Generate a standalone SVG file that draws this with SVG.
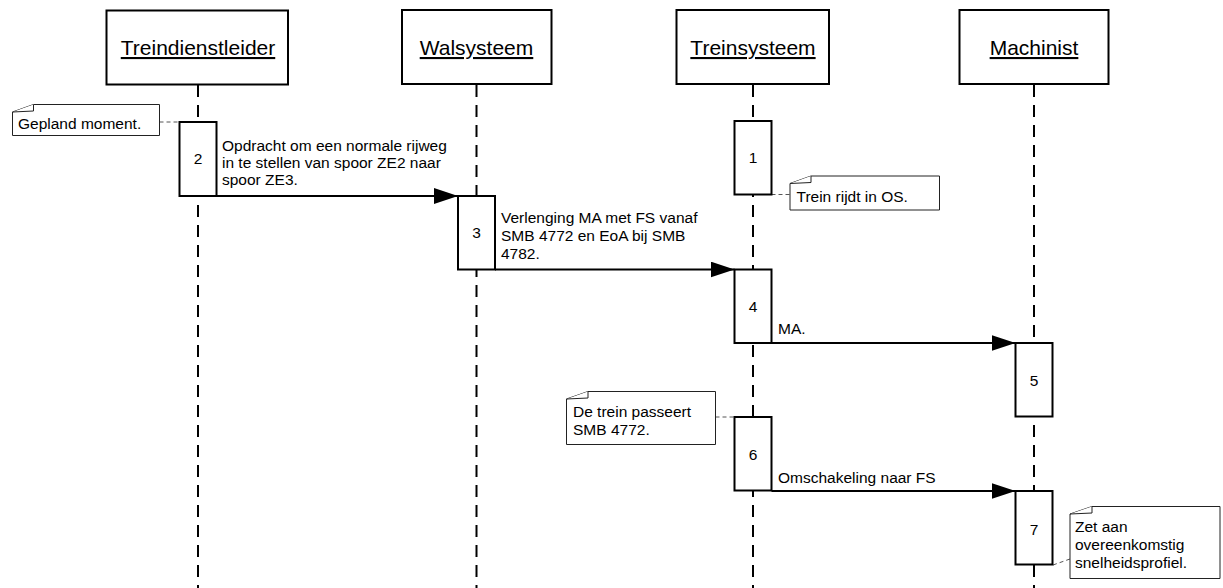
<svg xmlns="http://www.w3.org/2000/svg" width="1223" height="588" viewBox="0 0 1223 588">
  <style>
    .actor { fill: #fff; stroke: #000; stroke-width: 2; }
    .actor-label { font-family: "Liberation Sans", Arial, sans-serif; font-size: 21px; text-anchor: middle; text-decoration: underline; fill: #000; }
    .lifeline { stroke: #000; stroke-width: 2; stroke-dasharray: 12 8; fill: none; }
    .act { fill: #fff; stroke: #000; stroke-width: 2; }
    .act-label { font-family: "Liberation Sans", Arial, sans-serif; font-size: 15.5px; text-anchor: middle; fill: #000; }
    .msg { stroke: #000; stroke-width: 2; fill: none; marker-end: url(#arrow); }
    .msg-label { font-family: "Liberation Sans", Arial, sans-serif; font-size: 15.5px; fill: #000; }
    .note { fill: #fff; stroke: #222; stroke-width: 1; }
    .note-link { stroke: #555; stroke-width: 1; stroke-dasharray: 4 3; fill: none; }
    .note-label { font-family: "Liberation Sans", Arial, sans-serif; font-size: 15.5px; fill: #000; }
  </style>
  <defs>
    <marker id="arrow" markerUnits="userSpaceOnUse" markerWidth="24" markerHeight="16" refX="24" refY="8" orient="auto">
      <path d="M0,0 L24,8 L0,16 Z" fill="#000"/>
    </marker>
  </defs>

  <rect width="1223" height="588" fill="#fff"/>

  <!-- lifelines -->
  <g id="lifelines">
    <line class="lifeline" x1="198" y1="85" x2="198" y2="588"/>
    <line class="lifeline" x1="476.5" y1="85" x2="476.5" y2="588"/>
    <line class="lifeline" x1="753" y1="85" x2="753" y2="588"/>
    <line class="lifeline" x1="1034" y1="85" x2="1034" y2="588"/>
  </g>

  <!-- actors -->
  <g id="actor-treindienstleider">
    <rect class="actor" x="106.5" y="10.5" width="181.5" height="74"/>
    <text class="actor-label" x="198" y="55">Treindienstleider</text>
  </g>
  <g id="actor-walsysteem">
    <rect class="actor" x="402" y="10" width="149.5" height="74"/>
    <text class="actor-label" x="476.5" y="55">Walsysteem</text>
  </g>
  <g id="actor-treinsysteem">
    <rect class="actor" x="676.5" y="10" width="152.5" height="74"/>
    <text class="actor-label" x="753" y="55">Treinsysteem</text>
  </g>
  <g id="actor-machinist">
    <rect class="actor" x="959.5" y="10" width="149" height="74"/>
    <text class="actor-label" x="1034" y="55">Machinist</text>
  </g>

  <!-- note connectors -->
  <g id="note-links">
    <line class="note-link" x1="159.5" y1="122" x2="179.5" y2="122"/>
    <line class="note-link" x1="771.5" y1="194.5" x2="790" y2="194.5"/>
    <line class="note-link" x1="715.5" y1="417" x2="734.5" y2="417"/>
    <line class="note-link" x1="1053" y1="565" x2="1070" y2="559"/>
  </g>

  <!-- activations -->
  <g id="act-1">
    <rect class="act" x="734.5" y="121" width="37" height="73.5"/>
    <text class="act-label" x="753" y="163">1</text>
  </g>
  <g id="act-2">
    <rect class="act" x="179.5" y="122" width="37" height="74"/>
    <text class="act-label" x="198" y="164">2</text>
  </g>
  <g id="act-3">
    <rect class="act" x="458" y="196" width="37" height="73.5"/>
    <text class="act-label" x="476.5" y="238">3</text>
  </g>
  <g id="act-4">
    <rect class="act" x="734.5" y="269.5" width="37" height="73.5"/>
    <text class="act-label" x="753" y="312">4</text>
  </g>
  <g id="act-5">
    <rect class="act" x="1015.5" y="343" width="37" height="73.5"/>
    <text class="act-label" x="1034" y="386">5</text>
  </g>
  <g id="act-6">
    <rect class="act" x="734.5" y="417" width="37" height="73.5"/>
    <text class="act-label" x="753" y="460">6</text>
  </g>
  <g id="act-7">
    <rect class="act" x="1015.5" y="491" width="37" height="73.5"/>
    <text class="act-label" x="1034" y="535">7</text>
  </g>

  <!-- messages -->
  <g id="messages">
    <line class="msg" x1="216.5" y1="196" x2="458" y2="196"/>
    <line class="msg" x1="495" y1="269.5" x2="734.5" y2="269.5"/>
    <line class="msg" x1="771.5" y1="343" x2="1015.5" y2="343"/>
    <line class="msg" x1="771.5" y1="491" x2="1015.5" y2="491"/>
  </g>
  <g id="message-labels">
    <text class="msg-label" x="222" y="151">Opdracht om een normale rijweg</text>
    <text class="msg-label" x="222" y="168">in te stellen van spoor ZE2 naar</text>
    <text class="msg-label" x="222" y="185">spoor ZE3.</text>
    <text class="msg-label" x="501" y="222.5">Verlenging MA met FS vanaf</text>
    <text class="msg-label" x="501" y="240.5">SMB 4772 en EoA bij SMB</text>
    <text class="msg-label" x="501" y="258.5">4782.</text>
    <text class="msg-label" x="778" y="333.5">MA.</text>
    <text class="msg-label" x="778" y="483">Omschakeling naar FS</text>
  </g>

  <!-- notes -->
  <g id="note-gepland">
    <path class="note" d="M12.5,112 L33.5,104.5 L159.5,104.5 L159.5,135.5 L12.5,135.5 Z"/>
    <path class="note" d="M33.5,104.5 L33.5,111 L12.5,112" fill="none"/>
    <text class="note-label" x="18" y="129">Gepland moment.</text>
  </g>
  <g id="note-os">
    <path class="note" d="M790,183.5 L811,176 L939.5,176 L939.5,210 L790,210 Z"/>
    <path class="note" d="M811,176 L811,182.5 L790,183.5" fill="none"/>
    <text class="note-label" x="796.5" y="202">Trein rijdt in OS.</text>
  </g>
  <g id="note-smb">
    <path class="note" d="M566.5,399 L588,391.5 L715.5,391.5 L715.5,444.5 L566.5,444.5 Z"/>
    <path class="note" d="M588,391.5 L588,398 L566.5,399" fill="none"/>
    <text class="note-label" x="573" y="417">De trein passeert</text>
    <text class="note-label" x="573" y="435">SMB 4772.</text>
  </g>
  <g id="note-profiel">
    <path class="note" d="M1070,514 L1092,506.5 L1220,506.5 L1220,578.5 L1070,578.5 Z"/>
    <path class="note" d="M1092,506.5 L1092,513 L1070,514" fill="none"/>
    <text class="note-label" x="1075" y="532">Zet aan</text>
    <text class="note-label" x="1075" y="550">overeenkomstig</text>
    <text class="note-label" x="1075" y="568">snelheidsprofiel.</text>
  </g>
</svg>
